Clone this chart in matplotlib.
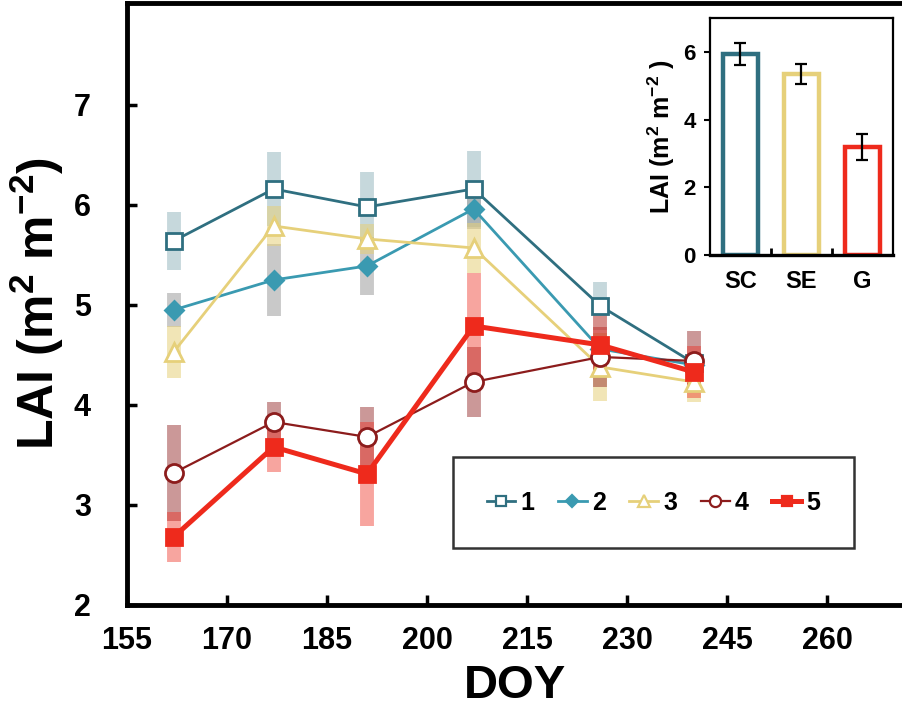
import numpy as np
import matplotlib
matplotlib.use('Agg')
import matplotlib.pyplot as plt
from matplotlib.lines import Line2D

plt.rcParams['font.family'] = ['Liberation Sans', 'DejaVu Sans']
plt.rcParams['font.weight'] = 'bold'
plt.rcParams['mathtext.fontset'] = 'custom'
plt.rcParams['mathtext.rm'] = 'Liberation Sans:bold'
plt.rcParams['mathtext.default'] = 'rm'

# sampling days
doy = [162, 177, 191, 207, 226, 240]

lai_1 = [5.64, 6.16, 5.98, 6.16, 4.99, 4.42]
lai_2 = [4.95, 5.25, 5.39, 5.96, 4.56, 4.40]
lai_3 = [4.53, 5.79, 5.66, 5.57, 4.38, 4.23]
lai_4 = [3.32, 3.83, 3.68, 4.23, 4.48, 4.44]
lai_5 = [2.68, 3.58, 3.31, 4.79, 4.60, 4.33]

sd_1 = [0.29, 0.37, 0.35, 0.38, 0.24, 0.10]
sd_2 = [0.17, 0.36, 0.29, 0.20, 0.12, 0.10]
sd_3 = [0.26, 0.20, 0.15, 0.25, 0.34, 0.20]
sd_4 = [0.48, 0.20, 0.30, 0.35, 0.30, 0.30]
sd_5 = [0.25, 0.25, 0.52, 0.53, 0.32, 0.26]

labels = ['1', '2', '3', '4', '5']

# inset: mean LAI per vegetation type
veg = ['SC', 'SE', 'G']
veg_lai = [5.93, 5.35, 3.20]
veg_err = [0.33, 0.29, 0.38]

series = [
    # (values, sd, line color, band color, band alpha, marker, face, ms, lw)
    (lai_1, sd_1, '#2f6f80', '#2f6f80', 0.27, 's', 'white', 11.5, 2.0),
    (lai_2, sd_2, '#3a9ab1', '#8f8f8f', 0.48, 'D', '#3a9ab1', 9.5, 2.0),
    (lai_3, sd_3, '#e6d07a', '#e6d07a', 0.55, '^', 'white', 13, 2.0),
    (lai_4, sd_4, '#8c1c1c', '#8c1c1c', 0.45, 'o', 'white', 13, 1.6),
    (lai_5, sd_5, '#ee2a1c', '#ee2a1c', 0.42, 's', '#ee2a1c', 11, 3.6),
]

fig = plt.figure(figsize=(9.02, 7.19), dpi=100)
ax = fig.add_axes([0.1408, 0.1586, 0.8592, 0.8373])

# shaded SD bands behind the lines
for vals, sd, col, bcol, alpha, mk, face, ms, lw in series:
    ax.errorbar(doy, vals, yerr=sd, fmt='none', ecolor=bcol, alpha=alpha,
                elinewidth=10, capsize=0, zorder=1)

handles = []
for (vals, sd, col, bcol, alpha, mk, face, ms, lw), lab in zip(series, labels):
    ax.plot(doy, vals, color=col, lw=lw, marker=mk, ms=ms, mfc=face,
            mec=col, mew=2.0, zorder=3)
    handles.append(Line2D([], [], color=col, lw=lw, marker=mk, ms=ms * 0.62,
                          mfc=face, mec=col, mew=1.6, label=lab))

ax.set_xlim(155, 271.25)
ax.set_ylim(2, 8.02)
ax.set_xticks(np.arange(155, 261, 15))
ax.set_yticks(np.arange(2, 8, 1))
ax.spines['right'].set_visible(False)
for s in ['left', 'bottom', 'top']:
    ax.spines[s].set_linewidth(3.5)
ax.tick_params(axis='both', direction='in', length=7, width=2.5, labelsize=22)
ax.tick_params(axis='x', pad=15)
ax.tick_params(axis='y', pad=26)
ax.set_xlabel('DOY', fontsize=34, fontweight='bold', labelpad=6)
ax.set_ylabel('LAI (m$^2$ m$^{-2}$)', fontsize=36, fontweight='bold', labelpad=6)

leg = ax.legend(handles=handles, ncol=5, loc='center',
                bbox_to_anchor=(0.679, 0.170), fontsize=18, frameon=True,
                fancybox=False, edgecolor='black', handlelength=1.15,
                handletextpad=0.2, columnspacing=0.95, borderpad=1.35)
leg.get_frame().set_linewidth(1.8)

# inset bar chart
ins = fig.add_axes([0.787, 0.6453, 0.2029, 0.3296])
xpos = np.arange(len(veg))
ins.bar(xpos, veg_lai, width=0.57, color='white',
        edgecolor=['#2f6f80', '#e6d07a', '#ee2a1c'], linewidth=3.2, zorder=2)
ins.errorbar(xpos, veg_lai, yerr=veg_err, fmt='none', ecolor='black',
             elinewidth=1.6, capsize=4, capthick=1.6, zorder=3)
ins.set_xlim(-0.5, 2.5)
ins.set_ylim(0, 7)
ins.set_yticks([0, 2, 4, 6])
ins.set_xticks(xpos)
ins.set_xticklabels(veg)
ins.set_xticks([0.5, 1.5], minor=True)
ins.tick_params(axis='x', which='major', length=0, labelsize=17, pad=11)
ins.tick_params(axis='x', which='minor', direction='in', length=5, width=2)
ins.tick_params(axis='y', direction='out', length=4, width=1.5, labelsize=16, pad=6)
for s in ins.spines.values():
    s.set_linewidth(1.6)
ins.spines['bottom'].set_linewidth(2.4)
ins.set_ylabel('LAI (m$^2$ m$^{-2}$ )', fontsize=18, fontweight='bold', labelpad=5)

plt.savefig('out.png', dpi=100)
